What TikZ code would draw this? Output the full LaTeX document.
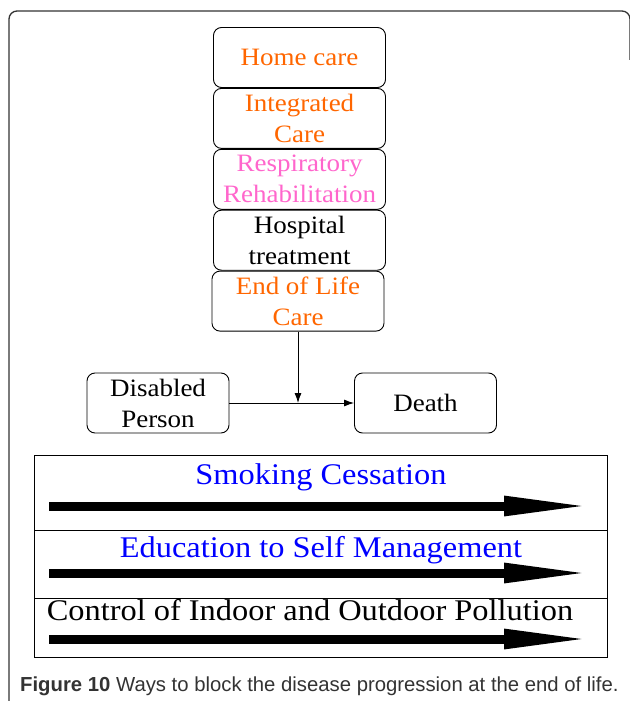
\documentclass[tikz,border=0pt]{standalone}
\usepackage{fontspec}
\setmainfont[FakeStretch=1.08]{Liberation Serif}
\newfontfamily\capfont{Liberation Sans}
\usetikzlibrary{positioning,arrows.meta}
\definecolor{careorange}{HTML}{FF6600}
\definecolor{rehabpink}{HTML}{FF66CC}
\definecolor{wayblue}{HTML}{0000FF}
\definecolor{capgray}{HTML}{333333}
\tikzset{
  stage/.style={draw,rounded corners=8pt,line width=0.9pt,minimum width=172pt,minimum height=60pt,
    inner sep=1pt,align=center,font=\fontsize{25}{31}\selectfont},
  state/.style={stage,minimum width=142pt},
  flow/.style={line width=0.9pt,-{Latex[length=10pt,width=7pt]}},
  way/.style={anchor=base,inner sep=0pt,font=\fontsize{30}{34}\selectfont},
  bigarrow/.style={line width=9pt,-{Triangle[length=88pt,width=18pt]}},
}
\begin{document}
\begin{tikzpicture}[x=1pt,y=-1pt]
\useasboundingbox (0,0) rectangle (629,701);
\draw[capgray,line width=1.3pt,rounded corners=8pt](9,701)--(9,11)--(630,11)--(630,60);
% stages of care
\node[stage,text=careorange](home)at(299.5,57.5){Home care};
\node[stage,text=careorange,below=0pt of home](integ){Integrated\\Care};
\node[stage,text=rehabpink,below=0pt of integ](rehab){Respiratory\\Rehabilitation};
\node[stage,below=0pt of rehab](hosp){Hospital\\treatment};
\node[stage,text=careorange,below=0pt of hosp,xshift=-1.5pt](eol){End of Life\\Care};
\node[state](disabled)at(158,403){Disabled\\Person};
\node[state](death)at(425.5,403){Death};
\coordinate(join)at(eol.south|-death.west);
\draw[flow](eol.south)--(join);
\draw[flow](disabled.east)--(death.west);
% ways to block
\draw(34.5,455)rectangle(607,657);
\draw(34.5,530)--(607,530) (34.5,598)--(607,598);
\node[way,text=wayblue](smoke)at(321,484){Smoking Cessation};
\node[way,text=wayblue](educ)at(321,557){Education to Self Management};
\node[way](pollut)at(310,620){Control of Indoor and Outdoor Pollution};
\foreach \y/\n in {506/1,573/2,639/3}{
  \coordinate(s\n)at(49,\y);
  \coordinate(e\n)at(592,\y);
  \draw[bigarrow](s\n)--(e\n);
}
\node[anchor=base west,inner sep=0pt,text=capgray,font=\capfont\fontsize{20.3}{24}\selectfont](cap)at(20,691)
  {\textbf{Figure 10} Ways to block the disease progression at the end of life.};
\end{tikzpicture}
\end{document}
